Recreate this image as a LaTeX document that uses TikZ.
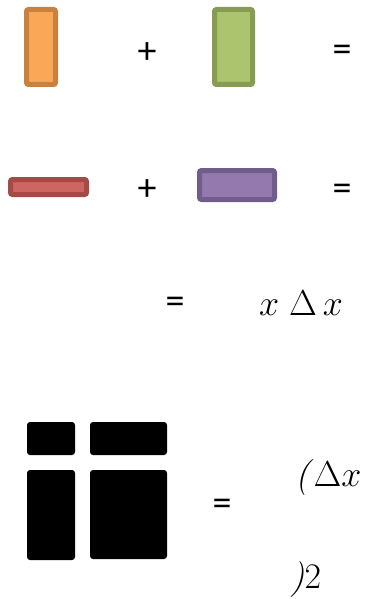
\RequirePackage{fix-cm}
\documentclass[tikz,border=0pt]{standalone}
\usepackage{fontspec}
\usepackage{amsmath}
\usepackage{xcolor}
\usetikzlibrary{positioning}
\newfontfamily\opfont{Carlito}
\definecolor{orfill}{HTML}{FAA858}
\definecolor{ordraw}{HTML}{C8813F}
\definecolor{grfill}{HTML}{ABC46D}
\definecolor{grdraw}{HTML}{879B51}
\definecolor{rdfill}{HTML}{CD6660}
\definecolor{rddraw}{HTML}{A54B47}
\definecolor{pufill}{HTML}{9479AE}
\definecolor{pudraw}{HTML}{705D8A}

\begin{document}
\begin{tikzpicture}[x=1pt,y=-1pt,
  strip/.style={rectangle,rounded corners=2pt,line width=5pt,inner sep=0pt},
  blk/.style={rectangle,rounded corners=3pt,fill=black,inner sep=0pt},
  op/.style={inner sep=0pt,font=\opfont\fontsize{38}{42}\selectfont},
  mth/.style={inner sep=0pt,font=\fontsize{36}{42}\selectfont}]
  \useasboundingbox (0,0) rectangle (384,599);
  % first line
  \node[strip,draw=ordraw,fill=orfill,minimum width=29pt,minimum height=75pt]
       (orng) at (41,47){};
  \node[op] (plusA) at (147,53){+};
  \node[strip,draw=grdraw,fill=grfill,minimum width=38pt,minimum height=75pt]
       (grn) at (233.5,47){};
  \node[op] (eqA) at (342,53){=};
  % second line
  \node[strip,draw=rddraw,fill=rdfill,minimum width=76pt,minimum height=15pt]
       (red) at (48.5,187){};
  \node[op] (plusB) at (147,190){+};
  \node[strip,draw=pudraw,fill=pufill,minimum width=75pt,minimum height=29pt]
       (purp) at (237,185){};
  \node[op] (eqB) at (342,192){=};
  % third line
  \node[op] (eqC) at (175,305){=};
  \node[mth] (xdx) at (301,303){$x\;\Delta\,x$};
  % square
  \node[blk,minimum width=48pt,minimum height=33pt] (tl) at (51,438.5){};
  \node[blk,minimum width=77pt,minimum height=33pt] (tr) at (128.5,438.5){};
  \node[blk,minimum width=48pt,minimum height=90pt] (bl) at (51,515){};
  \node[blk,minimum width=77pt,minimum height=89pt] (br) at (128.5,514.5){};
  \node[op] (eqD) at (222,507){=};
  \node[mth,anchor=base west] (open) at (295,486){\textit{(}$\Delta x$};
  \node[mth,anchor=base west] (close) at (290,588){\textit{)}$2$};
\end{tikzpicture}
\end{document}
